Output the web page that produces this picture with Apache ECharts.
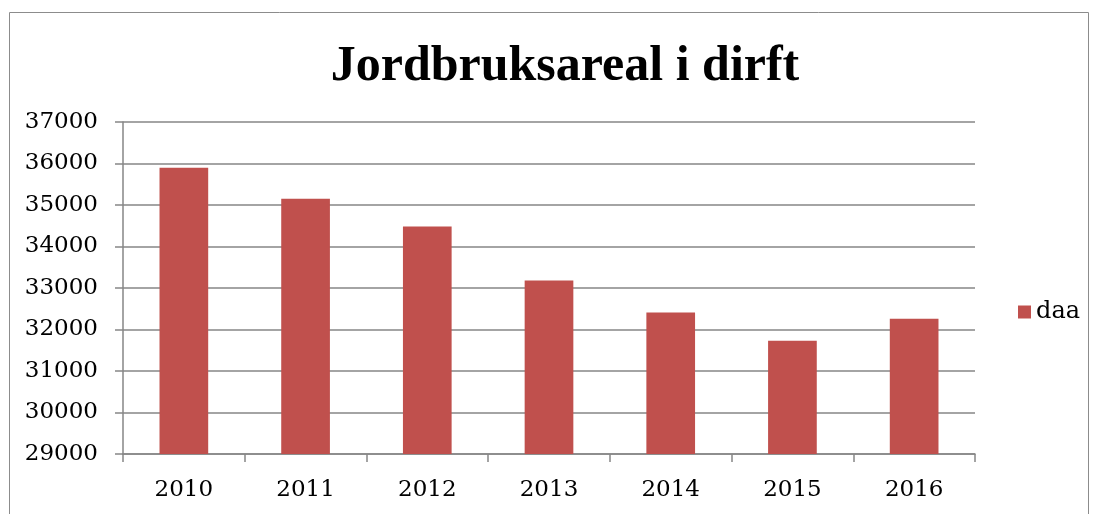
<!DOCTYPE html>
<html>
<head>
<meta charset="utf-8">
<script src="https://cdn.jsdelivr.net/npm/echarts@6/dist/echarts.min.js"></script>
<style>
  html, body { margin: 0; padding: 0; background: #fff; }
  #chart { width: 1095px; height: 514px; }
</style>
</head>
<body>
<div id="chart"></div>
<script>
// data
var years = ['2010', '2011', '2012', '2013', '2014', '2015', '2016'];
var daa = [35900, 35150, 34480, 33180, 32410, 31730, 32260];
var seriesName = 'daa';
var yMin = 29000, yMax = 37000, yStep = 1000;

var chart = echarts.init(document.getElementById('chart'));
var serif = 'DejaVu Serif';
var gray = '#868686';

var option = {
  animation: false,
  graphic: [{
    type: 'rect',
    shape: { x: 9.5, y: 12.5, width: 1079, height: 520 },
    style: { fill: 'none', stroke: '#8c8c8c', lineWidth: 1 }
  }],
  title: {
    text: 'Jordbruksareal i dirft',
    left: 560,
    textAlign: 'center',
    top: 37,
    textStyle: { fontFamily: 'Liberation Serif', fontWeight: 'bold', fontSize: 50, color: '#000' }
  },
  legend: {
    data: [seriesName],
    right: 10,
    top: 295,
    icon: 'rect',
    itemWidth: 13,
    itemHeight: 13,
    itemGap: 6,
    textStyle: { fontFamily: serif, fontSize: 24, color: '#000' }
  },
  grid: { left: 123, right: 120, top: 122, bottom: 60 },
  xAxis: {
    type: 'category',
    data: years,
    axisLine: { lineStyle: { color: gray, width: 1.5 } },
    axisTick: { show: true, length: 8, lineStyle: { color: gray, width: 1.5 } },
    axisLabel: { fontFamily: serif, fontSize: 23, color: '#000', margin: 25 }
  },
  yAxis: {
    type: 'value',
    min: yMin,
    max: yMax,
    interval: yStep,
    axisLine: { show: true, lineStyle: { color: gray, width: 1.5 } },
    axisTick: { show: true, length: 8, lineStyle: { color: gray, width: 1.5 } },
    axisLabel: {
      fontFamily: serif, fontSize: 23, color: '#000', margin: 25,
      formatter: function (v) { return String(v); }
    },
    splitLine: { lineStyle: { color: gray, width: 1.5 } }
  },
  series: [{
    name: seriesName,
    type: 'bar',
    data: daa,
    barWidth: '40%',
    itemStyle: { color: '#C0504D' }
  }]
};

chart.setOption(option);
</script>
</body>
</html>
